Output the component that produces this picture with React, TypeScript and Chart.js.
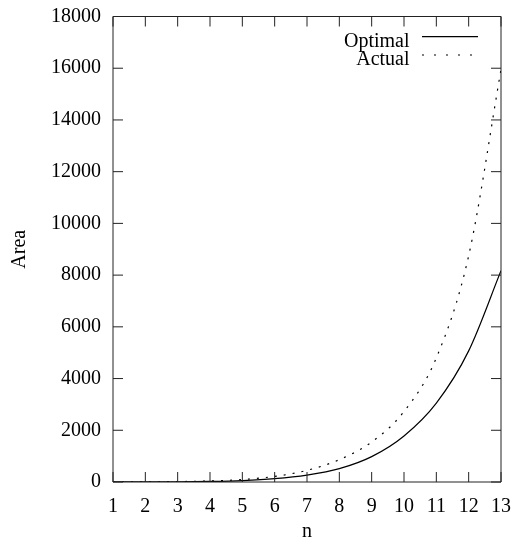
import React, { useEffect, useRef } from 'react';
import { Chart, registerables } from 'chart.js';

Chart.register(...registerables);

// ---- data ----
const nValues = [1, 2, 3, 4, 5, 6, 7, 8, 9, 10, 11, 12, 13];
const optimalArea = [1, 3, 8, 22, 55, 128, 267, 515, 980, 1780, 3050, 5070, 8170];
const actualArea = [2, 6, 16, 42, 95, 217, 450, 864, 1547, 2725, 4800, 8750, 15950];
const seriesLabels = ['Optimal', 'Actual'];
const xTitle = 'n';
const yTitle = 'Area';
const xMin = 1;
const xMax = 13;
const yMin = 0;
const yMax = 18000;
const yStep = 2000;

const FONT_FAMILY = "'Liberation Serif', 'Times New Roman', Times, serif";
const FONT = { family: FONT_FAMILY, size: 20 };

const framePlugin = {
  id: 'gnuplotFrame',
  afterDatasetsDraw(chart: any) {
    const { ctx, chartArea: a, scales } = chart;
    ctx.save();
    ctx.strokeStyle = '#222';
    ctx.lineWidth = 1;
    ctx.setLineDash([]);
    ctx.beginPath();
    ctx.rect(a.left, a.top, a.right - a.left, a.bottom - a.top);
    ctx.stroke();
    const L = 10;
    ctx.beginPath();
    scales.x.ticks.forEach((t: any) => {
      const px = scales.x.getPixelForValue(t.value);
      ctx.moveTo(px, a.bottom);
      ctx.lineTo(px, a.bottom - L);
      ctx.moveTo(px, a.top);
      ctx.lineTo(px, a.top + L);
    });
    scales.y.ticks.forEach((t: any) => {
      const py = scales.y.getPixelForValue(t.value);
      ctx.moveTo(a.left, py);
      ctx.lineTo(a.left + L, py);
      ctx.moveTo(a.right, py);
      ctx.lineTo(a.right - L, py);
    });
    ctx.stroke();
    ctx.restore();
  },
};

const legendPlugin = {
  id: 'gnuplotLegend',
  afterDraw(chart: any) {
    const { ctx, chartArea: a } = chart;
    ctx.save();
    ctx.font = `20px ${FONT_FAMILY}`;
    ctx.fillStyle = '#000';
    ctx.textAlign = 'right';
    ctx.textBaseline = 'alphabetic';
    const textRight = a.right - 91.5;
    const lineStart = a.right - 79;
    const lineEnd = a.right - 23;
    chart.data.datasets.forEach((ds: any, i: number) => {
      const rowY = a.top + 20.2 + i * 18.3;
      ctx.fillText(ds.label, textRight, rowY + 10);
      ctx.strokeStyle = ds.borderColor;
      ctx.lineWidth = ds.borderWidth;
      ctx.setLineDash(i === 0 ? [] : [2, 10]);
      ctx.beginPath();
      ctx.moveTo(lineStart, rowY);
      ctx.lineTo(lineEnd, rowY);
      ctx.stroke();
    });
    ctx.restore();
  },
};

const plainTick = (v: any) => String(v);

export default function App() {
  const canvasRef = useRef<HTMLCanvasElement | null>(null);

  useEffect(() => {
    const canvas = canvasRef.current;
    if (!canvas) return;
    const chart = new Chart(canvas, {
      type: 'line',
      data: {
        datasets: [
          {
            label: seriesLabels[0],
            data: nValues.map((n, i) => ({ x: n, y: optimalArea[i] })),
            borderColor: '#000',
            borderWidth: 1.2,
            pointRadius: 0,
            cubicInterpolationMode: 'monotone',
            fill: false,
          },
          {
            label: seriesLabels[1],
            data: nValues.map((n, i) => ({ x: n, y: actualArea[i] })),
            borderColor: '#000',
            borderWidth: 1.2,
            borderDash: [2, 7],
            pointRadius: 0,
            cubicInterpolationMode: 'monotone',
            fill: false,
          },
        ],
      },
      options: {
        animation: false,
        responsive: false,
        devicePixelRatio: 1,
        layout: { padding: { top: 16.5, right: 11, left: 0, bottom: 0 } },
        plugins: {
          legend: { display: false },
          tooltip: { enabled: false },
        },
        scales: {
          x: {
            type: 'linear',
            min: xMin,
            max: xMax,
            ticks: {
              stepSize: 1,
              autoSkip: false,
              maxRotation: 0,
              font: FONT,
              color: '#000',
              padding: 12.5,
              callback: plainTick,
            },
            grid: { display: false, drawTicks: false },
            border: { display: false },
            title: {
              display: true,
              text: xTitle,
              font: FONT,
              color: '#000',
              padding: { top: 0, bottom: 0 },
            },
            afterFit: (s: any) => {
              s.height = 62;
              s.paddingLeft = 0;
              s.paddingRight = 0;
            },
          },
          y: {
            type: 'linear',
            min: yMin,
            max: yMax,
            ticks: {
              stepSize: yStep,
              font: FONT,
              color: '#000',
              padding: 12,
              callback: plainTick,
            },
            grid: { display: false, drawTicks: false },
            border: { display: false },
            title: {
              display: true,
              text: yTitle,
              font: FONT,
              color: '#000',
              padding: { top: 8, bottom: 0 },
            },
            afterFit: (s: any) => {
              s.width = 113;
              s.paddingTop = 0;
              s.paddingBottom = 0;
            },
          },
        },
      } as any,
      plugins: [framePlugin, legendPlugin],
    });
    return () => chart.destroy();
  }, []);

  return (
    <div style={{ position: 'fixed', left: 0, top: 0, width: 512, height: 544, background: '#fff' }}>
      <canvas ref={canvasRef} width={512} height={544} style={{ width: 512, height: 544 }} />
    </div>
  );
}
